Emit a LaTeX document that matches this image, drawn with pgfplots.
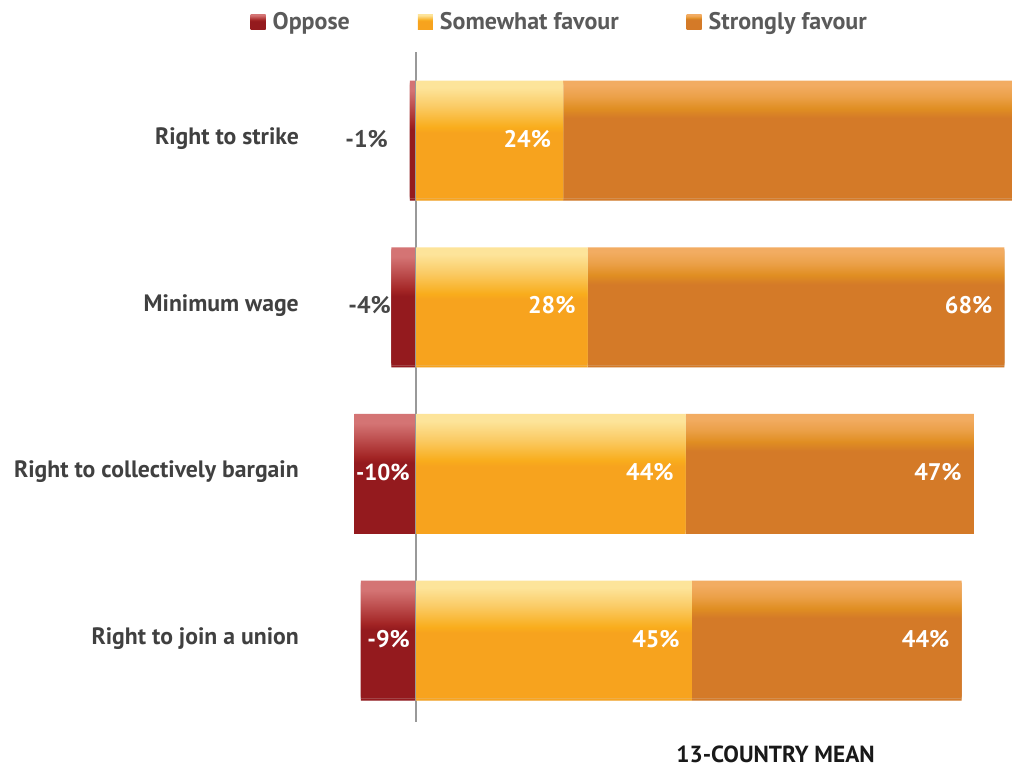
\documentclass[border=0pt]{standalone}
\usepackage{pgfplots}
\pgfplotsset{compat=1.18}
\usepackage{fontspec}
\setmainfont{PT Sans}
\definecolor{oppD}{HTML}{941A1E}
\definecolor{oppM}{HTML}{A32525}
\definecolor{oppT}{HTML}{BD4E4E}
\definecolor{oppL}{HTML}{D47474}
\definecolor{somD}{HTML}{F7A31E}
\definecolor{somM}{HTML}{F9AD1C}
\definecolor{somT}{HTML}{FACB65}
\definecolor{somL}{HTML}{FDE49A}
\definecolor{strD}{HTML}{D47A28}
\definecolor{strM}{HTML}{E08E22}
\definecolor{strT}{HTML}{EBA048}
\definecolor{strL}{HTML}{F2AC62}
\definecolor{labgray}{HTML}{404040}
\definecolor{leggray}{HTML}{5A5A5A}
% banded shadings: one gradient band per bar (all bars of a series share one path)
\pgfdeclareverticalshading{oppshade}{100bp}{color(0bp)=(oppD); color(25bp)=(oppD); color(30.46bp)=(oppD); color(30.93bp)=(oppM); color(32.34bp)=(oppT); color(33.66bp)=(oppL); color(34.42bp)=(oppL); color(38.53bp)=(oppD); color(43.99bp)=(oppD); color(44.46bp)=(oppM); color(45.87bp)=(oppT); color(47.19bp)=(oppL); color(47.94bp)=(oppL); color(52.06bp)=(oppD); color(57.52bp)=(oppD); color(57.99bp)=(oppM); color(59.40bp)=(oppT); color(60.72bp)=(oppL); color(61.47bp)=(oppL); color(65.58bp)=(oppD); color(71.04bp)=(oppD); color(71.51bp)=(oppM); color(72.92bp)=(oppT); color(74.24bp)=(oppL); color(75bp)=(oppL); color(100bp)=(oppL)}
\pgfdeclareverticalshading{somshade}{100bp}{color(0bp)=(somD); color(25bp)=(somD); color(30.18bp)=(somD); color(30.65bp)=(somM); color(32.34bp)=(somT); color(33.85bp)=(somL); color(34.42bp)=(somL); color(38.53bp)=(somD); color(43.71bp)=(somD); color(44.18bp)=(somM); color(45.87bp)=(somT); color(47.38bp)=(somL); color(47.94bp)=(somL); color(52.06bp)=(somD); color(57.24bp)=(somD); color(57.71bp)=(somM); color(59.40bp)=(somT); color(60.91bp)=(somL); color(61.47bp)=(somL); color(65.58bp)=(somD); color(70.76bp)=(somD); color(71.23bp)=(somM); color(72.92bp)=(somT); color(74.43bp)=(somL); color(75bp)=(somL); color(100bp)=(somL)}
\pgfdeclareverticalshading{strshade}{100bp}{color(0bp)=(strD); color(25bp)=(strD); color(31.40bp)=(strD); color(32.16bp)=(strM); color(33.10bp)=(strT); color(34.04bp)=(strL); color(34.42bp)=(strL); color(38.53bp)=(strD); color(44.93bp)=(strD); color(45.69bp)=(strM); color(46.63bp)=(strT); color(47.57bp)=(strL); color(47.94bp)=(strL); color(52.06bp)=(strD); color(58.46bp)=(strD); color(59.22bp)=(strM); color(60.16bp)=(strT); color(61.10bp)=(strL); color(61.47bp)=(strL); color(65.58bp)=(strD); color(71.98bp)=(strD); color(72.74bp)=(strM); color(73.68bp)=(strT); color(74.62bp)=(strL); color(75bp)=(strL); color(100bp)=(strL)}
% simple shadings for legend squares
\pgfdeclareverticalshading{legopp}{100bp}{color(0bp)=(oppD); color(53bp)=(oppD); color(57bp)=(oppM); color(65bp)=(oppT); color(72bp)=(oppL); color(100bp)=(oppL)}
\pgfdeclareverticalshading{legsom}{100bp}{color(0bp)=(somD); color(53bp)=(somD); color(56bp)=(somM); color(65bp)=(somT); color(72bp)=(somL); color(100bp)=(somL)}
\pgfdeclareverticalshading{legstr}{100bp}{color(0bp)=(strD); color(58bp)=(strD); color(62bp)=(strM); color(67bp)=(strT); color(72bp)=(strL); color(100bp)=(strL)}
\pgfplotsset{
  base/.style={
    scale only axis, width=672pt, height=670pt,
    xmin=-12.4, xmax=97.23, ymin=-0.5, ymax=3.52,
    at={(340pt,45pt)}, anchor=south west,
    axis line style={draw=none}, tick style={draw=none},
    xtick=\empty,
    /pgf/number format/assume math mode=true,
  },
  barshadow/.style={
    preaction={draw=none, fill=black!9, transform canvas={yshift=-4pt}},
    preaction={draw=none, fill=black!17, transform canvas={yshift=-2pt}}},
  oppstyle/.style={draw=none, barshadow, shade, shading=oppshade},
  somstyle/.style={draw=none, barshadow, shade, shading=somshade},
  strstyle/.style={draw=none, barshadow, shade, shading=strshade},
}
\begin{document}
\begin{tikzpicture}
\begin{axis}[base,
  ytick={0,1,2,3},
  yticklabels={Right to join a union, Right to collectively bargain, Minimum wage, Right to strike},
  yticklabel style={anchor=east, inner sep=0pt, xshift=-41pt, text=labgray, font=\fontsize{23.7}{28}\selectfont\bfseries},
]
\addplot[xbar, bar width=116pt, bar shift=0pt, oppstyle] coordinates {(-9,0) (-10,1) (-4,2) (-1,3)};
\end{axis}
\begin{axis}[base,
  ytick=\empty,
  xbar stacked, bar width=116pt,
  legend columns=3,
  legend style={draw=none, fill=none, at={(rel axis cs:0.327,1.045)}, anchor=center,
    font=\fontsize{24}{28}\selectfont\bfseries, text=leggray,
    /tikz/every odd column/.append style={column sep=5pt},
    /tikz/every even column/.append style={column sep=66pt}},
  legend image code/.code={\path[#1] (0pt,-7.5pt) rectangle (15pt,7.5pt);},
  visualization depends on={rawx \as \rawxval},
  nodes near coords={\pgfmathprintnumber{\pgfplotspointmeta}\%},
  point meta=rawx,
  every node near coord/.append style={anchor=east, inner sep=0pt, xshift={\rawxval*3.06486pt-12pt}, text=white, font=\fontsize{24}{28}\selectfont\bfseries},
]
\addlegendimage{draw=none, shade, shading=legopp}
\addlegendentry{Oppose}
\addlegendimage{draw=none, shade, shading=legsom}
\addlegendentry{Somewhat favour}
\addlegendimage{draw=none, shade, shading=legstr}
\addlegendentry{Strongly favour}
\addplot[somstyle, forget plot] coordinates {(24,3) (28,2) (44,1) (45,0)};
\addplot[strstyle, forget plot] coordinates {(75,3) (68,2) (47,1) (44,0)};
\draw[color=black!40, line width=1.2pt] (axis cs:0,-0.5) -- (axis cs:0,3.52);
\node[anchor=east, inner sep=0pt, text=black!72, font=\fontsize{24}{28}\selectfont\bfseries] at (axis cs:-4.57,3) {-1\%};
\node[anchor=east, inner sep=0pt, text=black!72, font=\fontsize{24}{28}\selectfont\bfseries] at (axis cs:-4.08,2) {-4\%};
\node[anchor=east, inner sep=0pt, text=white, font=\fontsize{23}{28}\selectfont\bfseries] at (axis cs:-0.98,1) {-10\%};
\node[anchor=east, inner sep=0pt, text=white, font=\fontsize{24}{28}\selectfont\bfseries] at (axis cs:-0.98,0) {-9\%};
\end{axis}
\node[inner sep=0pt, text=black!90, font=\fontsize{23.3}{27}\selectfont\bfseries] at (775.5pt,12.5pt) {13-COUNTRY MEAN};
\pgfresetboundingbox
\useasboundingbox (0,0) rectangle (1012pt,767pt);
\end{tikzpicture}
\end{document}
